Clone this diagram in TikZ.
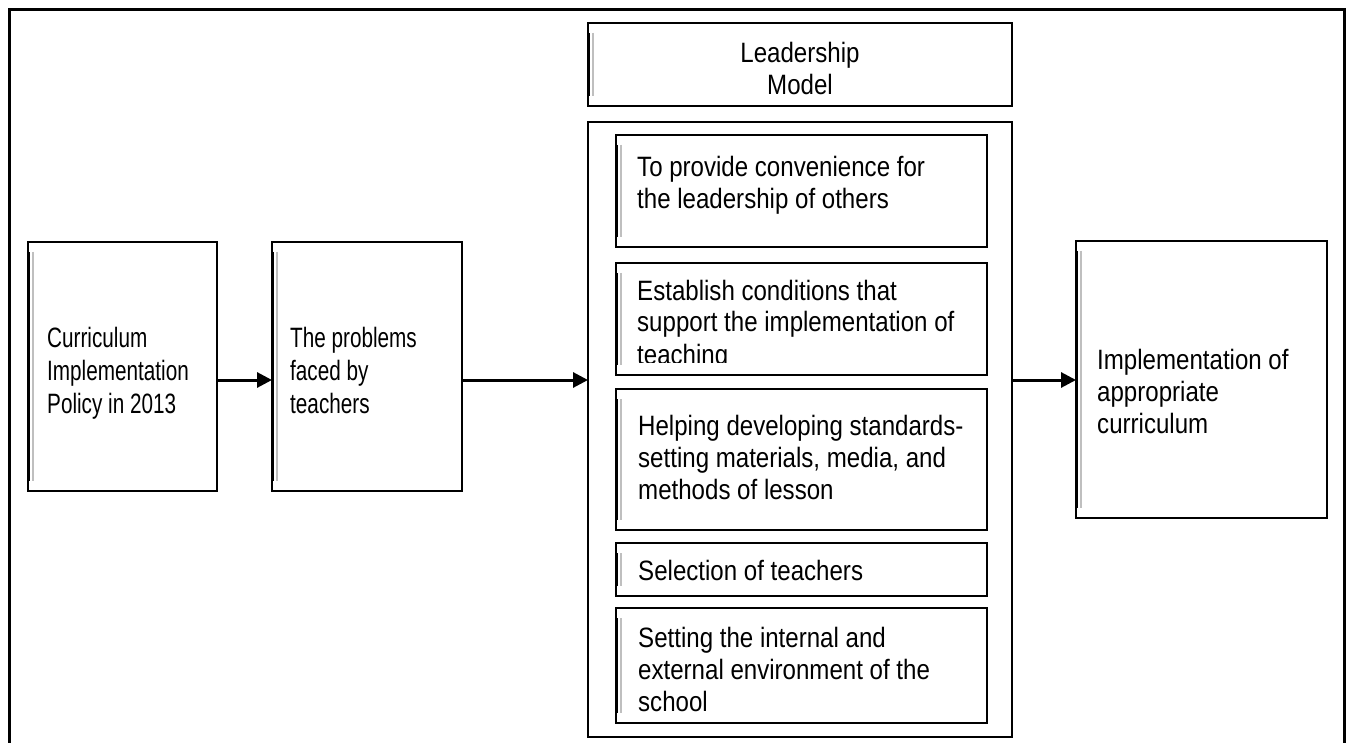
\documentclass[tikz,border=0pt]{standalone}
\usepackage{fontspec}
\setmainfont{Liberation Sans}
\newfontfamily\narrowf{Liberation Sans}[FakeStretch=0.74]
\newfontfamily\widef{Liberation Sans}[FakeStretch=0.86]
\usetikzlibrary{arrows.meta}
\begin{document}
\begin{tikzpicture}[x=1pt,y=-1pt,
  box/.style={draw=black,line width=2pt,inner sep=0pt,outer sep=0pt,rectangle,fill=white},
  narrowtxt/.style={font=\narrowf\fontsize{28}{33}\selectfont,align=left,anchor=base west,inner sep=0pt},
  widetxt/.style={font=\widef\fontsize{28}{32}\selectfont,align=left,anchor=base west,inner sep=0pt},
  arr/.style={line width=3pt,-{Triangle[length=15pt,width=15pt]}},
  ghost/.style={draw=black!25,line width=2pt},
  frame/.style={line width=3pt}]
\useasboundingbox (0,0) rectangle (1347,743);
% outer frame (open at the bottom)
\coordinate (f1) at (9,745);
\coordinate (f2) at (9,10);
\coordinate (f3) at (1344,10);
\coordinate (f4) at (1344,745);
\draw[frame] (f1) -- (f2) -- (f3) -- (f4);
% boxes
\node[box,minimum width=189pt,minimum height=249pt] (b1) at (122.5,366.5) {};
\node[box,minimum width=190pt,minimum height=249pt] (b2) at (367,366.5) {};
\node[box,minimum width=424pt,minimum height=83pt] (lm) at (800,64.5) {};
\node[box,minimum width=424pt,minimum height=615pt] (cont) at (800,429.5) {};
\node[box,minimum width=371pt,minimum height=112pt] (i1) at (801.5,191) {};
\node[box,minimum width=371pt,minimum height=112pt] (i2) at (801.5,319) {};
\node[box,minimum width=371pt,minimum height=141pt] (i3) at (801.5,459.5) {};
\node[box,minimum width=371pt,minimum height=53pt] (i4) at (801.5,569.5) {};
\node[box,minimum width=371pt,minimum height=115pt] (i5) at (801.5,665.5) {};
\node[box,minimum width=251pt,minimum height=277pt] (rb) at (1201.5,379.5) {};
% heavier, faintly doubled left edges
\foreach \n in {b1,b2,lm,i1,i2,i3,i4,i5,rb}{
  \draw[ghost] ([xshift=4.5pt,yshift=-10pt]\n.north west) -- ([xshift=4.5pt,yshift=10pt]\n.south west);
  \draw[line width=3pt] ([xshift=0.5pt,yshift=-10pt]\n.north west) -- ([xshift=0.5pt,yshift=10pt]\n.south west);
}
% texts (base anchor = baseline of the last line)
\node[narrowtxt] (t1) at (47,413) {Curriculum\\Implementation\\Policy in 2013};
\node[narrowtxt] (t2) at (290,413) {The problems\\faced by\\teachers};
\node[widetxt,align=center,anchor=base] (tlm) at (800,95) {Leadership\\Model};
\node[widetxt] (ti1) at (637,209) {To provide convenience for\\the leadership of others};
\begin{scope}
  \clip (620,265) rectangle (985,362);
  \node[widetxt] (ti2) at (637,364) {Establish conditions that\\support the implementation of\\teaching};
\end{scope}
\node[widetxt] (ti3) at (638,499) {Helping developing standards-\\setting materials, media, and\\methods of lesson};
\node[widetxt] (ti4) at (638,580) {Selection of teachers};
\begin{scope}
  \clip (620,610) rectangle (985,712);
  \node[widetxt] (ti5) at (638,711) {Setting the internal and\\external environment of the\\school};
\end{scope}
\node[widetxt] (trb) at (1097,433) {Implementation of\\appropriate\\curriculum};
% arrows
\coordinate (ay) at (0,380);
\draw[arr] (b1.east |- ay) -- (b2.west |- ay);
\draw[arr] (b2.east |- ay) -- (cont.west |- ay);
\draw[arr] (cont.east |- ay) -- (rb.west |- ay);
\end{tikzpicture}
\end{document}
